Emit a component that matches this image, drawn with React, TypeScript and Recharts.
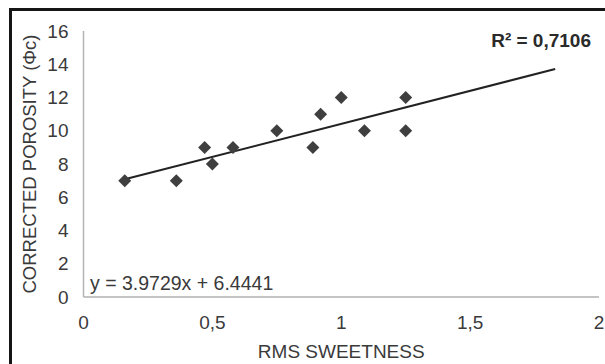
import React from 'react';
import { ScatterChart, Scatter, XAxis, YAxis, ReferenceLine, Customized } from 'recharts';

const sweetness = [0.16, 0.36, 0.47, 0.5, 0.58, 0.75, 0.89, 0.92, 1.0, 1.09, 1.25, 1.25];
const porosity = [7, 7, 9, 8, 9, 10, 9, 11, 12, 10, 12, 10];
const xTicks = [0, 0.5, 1, 1.5, 2];
const yTicks = [0, 2, 4, 6, 8, 10, 12, 14, 16];
const trendStart = { x: 0.16, y: 7.08 };
const trendEnd = { x: 1.83, y: 13.71 };
const equationText = 'y = 3.9729x + 6.4441';
const r2Text = 'R² = 0,7106';
const xTitle = 'RMS SWEETNESS';
const yTitle = 'CORRECTED POROSITY (Φc)';

const points = sweetness.map((x, i) => ({ x, y: porosity[i] }));

const FONT = '"Liberation Sans", Arial, sans-serif';
const TEXT = '#3a3a3a';

const Diamond = (props: any) => {
  const { cx, cy } = props;
  const r = 6.5;
  return (
    <polygon
      points={`${cx},${cy - r} ${cx + r},${cy} ${cx},${cy + r} ${cx - r},${cy}`}
      fill="#3f3f3f"
    />
  );
};

const YTitle = (props: any) => {
  const vb = props.viewBox || {};
  const cy = vb.y + vb.height / 2;
  const cx = 29;
  return (
    <text
      x={cx}
      y={cy}
      transform={`rotate(-90, ${cx}, ${cy})`}
      textAnchor="middle"
      dominantBaseline="central"
      fontFamily={FONT}
      fontSize={18.5}
      fill={TEXT}
    >
      {yTitle}
    </text>
  );
};

const Annotations = () => (
  <g>
    <text x={90} y={290} fontFamily={FONT} fontSize={19.5} fill={TEXT}>
      {equationText}
    </text>
    <text x={591} y={47} textAnchor="end" fontFamily={FONT} fontSize={19} fontWeight="bold" fill="#2a2a2a">
      {r2Text}
    </text>
  </g>
);

const fmt = (v: number) => String(v).replace('.', ',');

export default function App() {
  return (
    <div style={{ position: 'absolute', left: 0, top: 0, width: 605, height: 364, background: '#fff', overflow: 'hidden' }}>
      <div
        style={{
          position: 'absolute',
          left: 9,
          top: 8,
          width: 620,
          height: 380,
          borderLeft: '3px solid #151515',
          borderTop: '3px solid #151515',
        }}
      />
      <div style={{ position: 'absolute', left: 0, top: 0 }}>
        <ScatterChart width={605} height={364} margin={{ top: 31, right: 6, bottom: 0, left: 0 }}>
          <XAxis
            type="number"
            dataKey="x"
            domain={[0, 2]}
            ticks={xTicks}
            tickFormatter={fmt}
            allowDataOverflow
            height={67}
            tickLine={false}
            tickSize={0}
            tickMargin={19}
            axisLine={{ stroke: '#c4c4c4', strokeWidth: 2 }}
            tick={{ fill: TEXT, fontSize: 19, fontFamily: FONT }}
            label={{ value: xTitle, position: 'insideBottom', offset: 6, fill: TEXT, fontSize: 19, fontFamily: FONT }}
          />
          <YAxis
            type="number"
            dataKey="y"
            domain={[0, 16]}
            ticks={yTicks}
            allowDataOverflow
            width={83.5}
            tickLine={false}
            tickSize={0}
            tickMargin={15}
            axisLine={{ stroke: '#b5b5b5', strokeWidth: 1.5 }}
            tick={{ fill: TEXT, fontSize: 19, fontFamily: FONT }}
            label={<YTitle />}
          />
          <ReferenceLine
            segment={[trendStart, trendEnd]}
            stroke="#222"
            strokeWidth={2}
            ifOverflow="visible"
          />
          <Scatter data={points} shape={<Diamond />} isAnimationActive={false} />
          <Customized component={Annotations} />
        </ScatterChart>
      </div>
    </div>
  );
}
